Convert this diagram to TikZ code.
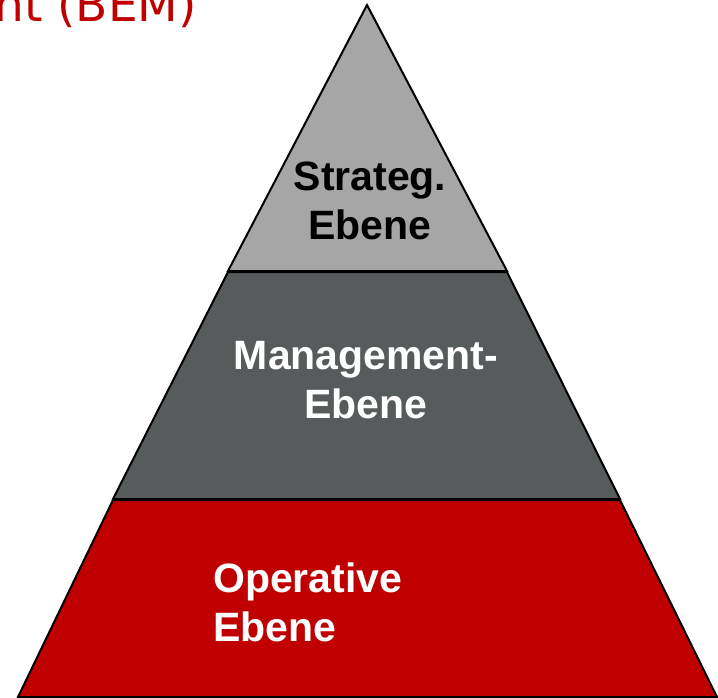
\documentclass[tikz,border=0pt]{standalone}
\usepackage{fontspec}
\setmainfont{Liberation Sans}
\newfontfamily\titlefont{DejaVu Sans}
\usetikzlibrary{positioning}
\definecolor{bemred}{RGB}{192,0,0}
\definecolor{stratgray}{RGB}{166,166,166}
\definecolor{mgmtgray}{RGB}{87,91,91}

\begin{document}
\begin{tikzpicture}[x=1pt,y=-1pt,
  layer/.style={line width=2pt, draw=black, line join=miter},
  ebene/.style={inner sep=0pt, font=\fontsize{41}{49}\selectfont\bfseries, align=center}]
  \useasboundingbox (0,0) rectangle (718,698);
  \clip (0,0) rectangle (718,698);

  % pyramid, bottom up
  \draw [layer, fill=bemred] (113,500) -- (620,500) -- (717,697) -- (18,697) -- cycle;
  \draw [layer, fill=mgmtgray] (228,272) -- (507,272) -- (620,499) -- (113,499) -- cycle;
  \draw [layer, fill=stratgray] (367,5) -- (507,271) -- (228,271) -- cycle;

  % base anchor = baseline of the last line
  \node [ebene, anchor=base] (strateg) at (370,240) {Strateg.\\Ebene};
  \node [ebene, text=white, anchor=base] (management) at (366,418) {Management-\\Ebene};
  \node [ebene, text=white, align=left, anchor=base west] (operativ) at (213,641) {Operative\\Ebene};

  %\node (titel) -- cut off at the page edge
  \node [text=bemred, font=\titlefont\fontsize{47}{50}\selectfont, inner sep=0pt, anchor=base east] (titel) at (197,22) {nt (BEM)};
\end{tikzpicture}
\end{document}
